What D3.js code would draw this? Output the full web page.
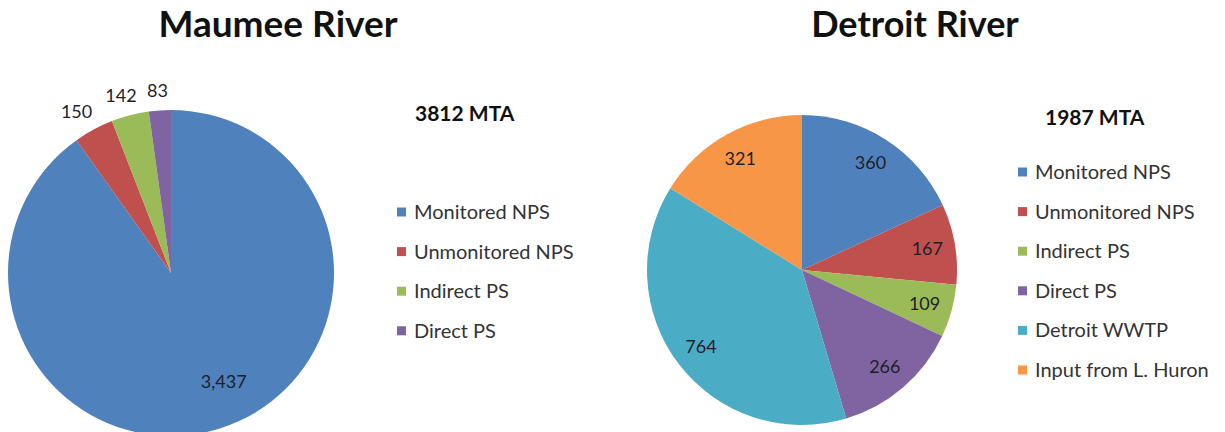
<!DOCTYPE html>
<html>
<head>
<meta charset="utf-8">
<script src="https://cdn.jsdelivr.net/npm/d3@7"></script>
<style>
  body { margin: 0; background: #fff; }
  svg text { font-family: Lato, "Open Sans", sans-serif; }
</style>
</head>
<body>
<div id="chart"></div>
<script>
// Data
const categories = ['Monitored NPS', 'Unmonitored NPS', 'Indirect PS', 'Direct PS', 'Detroit WWTP', 'Input from L. Huron'];
const maumeeValues = [3437, 150, 142, 83];
const detroitValues = [360, 167, 109, 266, 764, 321];
const maumeeLabels = ['3,437', '150', '142', '83'];
const detroitLabels = ['360', '167', '109', '266', '764', '321'];
const totals = ['3812 MTA', '1987 MTA'];
const titles = ['Maumee River', 'Detroit River'];
const colors = ['#4F81BD', '#C0504D', '#9BBB59', '#8064A2', '#4BACC6', '#F79646'];

const W = 1225, H = 432;

const svg = d3.select('#chart').append('svg')
  .attr('width', W)
  .attr('height', H);

const colorScale = d3.scaleOrdinal().domain(categories).range(colors);

const panels = [
  {
    title: titles[0], total: totals[0], values: maumeeValues, labels: maumeeLabels,
    cx: 171, cy: 273, r: 163, titleX: 278, titleSize: 37, totalX: 415, totalY: 121,
    legendX: 397, legendY: 212, labelMode: 'outside'
  },
  {
    title: titles[1], total: totals[1], values: detroitValues, labels: detroitLabels,
    cx: 802, cy: 270, r: 155, titleX: 915, titleSize: 36, totalX: 1045, totalY: 125,
    legendX: 1018, legendY: 172, labelMode: 'inside'
  }
];

const pie = d3.pie().sort(null).value(d => d.value);

panels.forEach(p => {
  const rows = p.values.map((v, i) => ({ cat: categories[i], value: v, label: p.labels[i] }));
  const arcs = pie(rows);

  // Title
  svg.append('text')
    .attr('x', p.titleX)
    .attr('y', 37)
    .attr('text-anchor', 'middle')
    .style('font-size', `${p.titleSize}px`)
    .style('font-weight', 'bold')
    .attr('fill', '#111')
    .text(p.title);

  const g = svg.append('g')
    .attr('transform', `translate(${p.cx}, ${p.cy})`);

  const arc = d3.arc().innerRadius(0).outerRadius(p.r);

  g.selectAll('path')
    .data(arcs)
    .enter()
    .append('path')
    .attr('d', arc)
    .attr('fill', d => colorScale(d.data.cat));

  // Data labels
  g.selectAll('.lbl')
    .data(arcs)
    .enter()
    .append('text')
    .attr('class', 'lbl')
    .attr('text-anchor', 'middle')
    .attr('dy', '0.35em')
    .style('font-size', '18px')
    .attr('fill', '#1e1e2a')
    .attr('transform', d => {
      const a = (d.startAngle + d.endAngle) / 2;
      const s = Math.sin(a), c = -Math.cos(a);
      if (p.labelMode === 'inside') {
        return `translate(${s * p.r * 0.82}, ${c * p.r * 0.82})`;
      }
      if (d.index === 0) {
        // big slice label sits a bit right of the bisector
        return `translate(${s * p.r * 0.74 + 16}, ${c * p.r * 0.74 - 6})`;
      }
      // outside end: push past the rim, more sideways for wide text
      return `translate(${s * (p.r + 36)}, ${c * (p.r + 20)})`;
    })
    .text(d => d.data.label);

  // Total
  svg.append('text')
    .attr('x', p.totalX)
    .attr('y', p.totalY)
    .style('font-size', '21px')
    .style('font-weight', 'bold')
    .attr('fill', '#111')
    .text(p.total);

  // Legend
  const legend = svg.append('g')
    .attr('transform', `translate(${p.legendX}, ${p.legendY})`);

  const item = legend.selectAll('.item')
    .data(rows)
    .enter()
    .append('g')
    .attr('class', 'item')
    .attr('transform', (d, i) => `translate(0, ${i * 39.6})`);

  item.append('rect')
    .attr('x', 0)
    .attr('y', -4.5)
    .attr('width', 9)
    .attr('height', 9)
    .attr('fill', d => colorScale(d.cat));

  item.append('text')
    .attr('x', 17)
    .attr('dy', '0.35em')
    .style('font-size', '20px')
    .attr('fill', '#333')
    .text(d => d.cat);
});
</script>
</body>
</html>
